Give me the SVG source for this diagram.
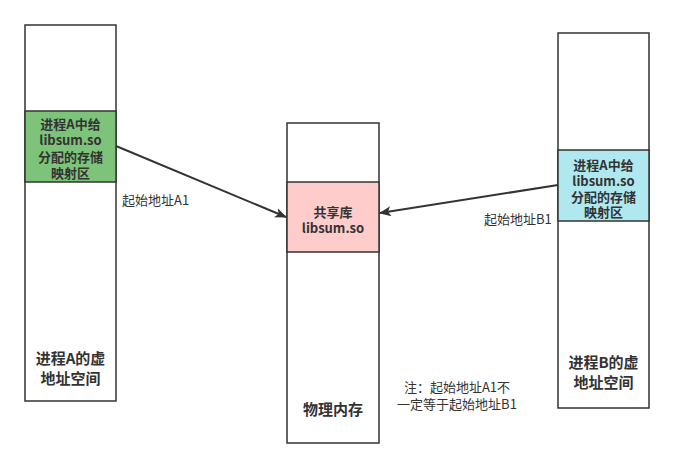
<svg xmlns="http://www.w3.org/2000/svg" width="674" height="468" viewBox="0 0 674 468">
<style>
.col{fill:#fff;stroke:#333;stroke-width:1.5}
.b{font-family:"Noto Sans CJK SC","Liberation Sans",sans-serif;font-size:13px;font-weight:bold;fill:#333;text-anchor:middle}
.t{font-family:"Noto Sans CJK SC","Liberation Sans",sans-serif;font-size:15px;font-weight:bold;fill:#333;text-anchor:middle}
.n{font-family:"Noto Sans CJK SC","Liberation Sans",sans-serif;font-size:13px;fill:#333}
.e{fill:none;stroke:#333;stroke-width:2}
</style>
<defs>
<marker id="ah" viewBox="0 0 12 10" refX="11" refY="5" markerWidth="12" markerHeight="10" markerUnits="userSpaceOnUse" orient="auto">
<path d="M0,0 L12,5 L0,10 L3,5 Z" fill="#333"/>
</marker>
</defs>
<g id="procA">
<rect class="col" x="25" y="25" width="91" height="376"/>
<text class="t" x="70.5" y="364">进程A的虚</text>
<text class="t" x="70.5" y="384">地址空间</text>
</g>
<g id="regionA">
<rect x="25" y="111" width="91" height="71" fill="#7DC47A" stroke="#333" stroke-width="1.5"/>
<text class="b" x="70.5" y="129">进程A中给</text>
<text class="b" x="70.5" y="145">libsum.so</text>
<text class="b" x="70.5" y="162">分配的存储</text>
<text class="b" x="70.5" y="178">映射区</text>
</g>
<g id="phys">
<rect class="col" x="287" y="123" width="92" height="320"/>
<text class="t" x="333" y="415">物理内存</text>
</g>
<g id="lib">
<rect x="287" y="182" width="92" height="70" fill="#FFCCCC" stroke="#333" stroke-width="1.5"/>
<text class="b" x="333" y="217">共享库</text>
<text class="b" x="333" y="233">libsum.so</text>
</g>
<g id="procB">
<rect class="col" x="558" y="33" width="91" height="375"/>
<text class="t" x="603.5" y="368">进程B的虚</text>
<text class="t" x="603.5" y="388">地址空间</text>
</g>
<g id="regionB">
<rect x="558" y="150" width="91" height="71" fill="#B0E8F0" stroke="#333" stroke-width="1.5"/>
<text class="b" x="603.5" y="170">进程A中给</text>
<text class="b" x="603.5" y="186">libsum.so</text>
<text class="b" x="603.5" y="202">分配的存储</text>
<text class="b" x="603.5" y="217">映射区</text>
</g>
<g id="connectors">
<line class="e" x1="116" y1="146" x2="286" y2="217" marker-end="url(#ah)"/>
<line class="e" x1="558" y1="185" x2="380" y2="213" marker-end="url(#ah)"/>
</g>
<g id="labels">
<text class="n" x="122" y="205">起始地址A1</text>
<text class="n" x="484" y="224">起始地址B1</text>
<text class="n" x="457" y="392" text-anchor="middle">注：起始地址A1不</text>
<text class="n" x="457" y="409" text-anchor="middle">一定等于起始地址B1</text>
</g>
</svg>
